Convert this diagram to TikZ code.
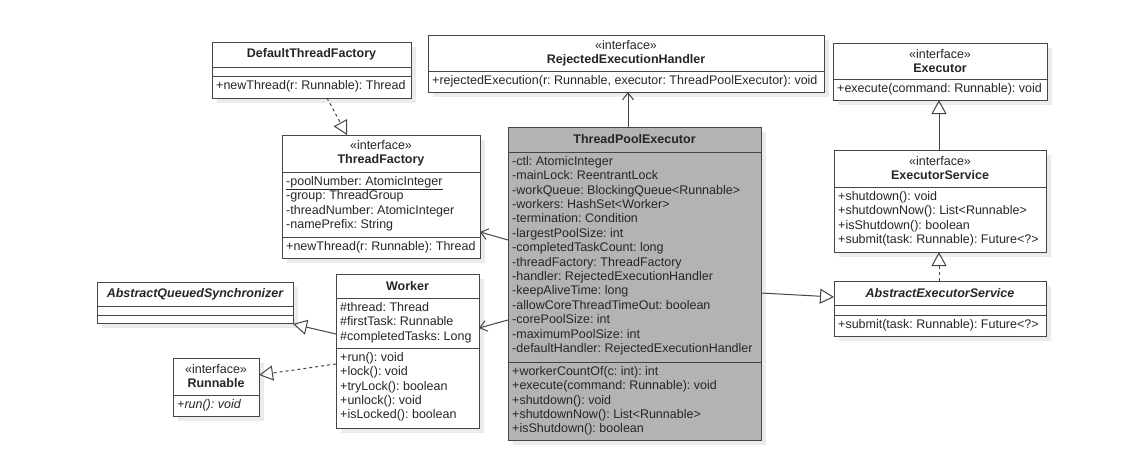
\documentclass[tikz,border=0pt]{standalone}
\usepackage{fontspec}
\setmainfont{Liberation Sans}
\usetikzlibrary{arrows.meta,fit}
\frenchspacing
\definecolor{lc}{HTML}{454545}
\definecolor{tc}{HTML}{262626}
\definecolor{shc}{HTML}{EBEBEB}
\definecolor{tpefill}{HTML}{B3B3B3}
\tikzset{
 cls/.style={draw=lc, line width=1pt, fill=white, inner sep=0pt, outer sep=0pt},
 sep/.style={draw=lc, line width=1pt},
 txt/.style={anchor=north west, inner sep=0pt, align=left, text=tc, font=\fontsize{12.5}{14.4}\selectfont\frenchspacing},
 hdr/.style={inner sep=0pt, align=center, text=tc, font=\fontsize{12.5}{14}\selectfont\bfseries},
 conn/.style={draw=lc, line width=1pt},
 gen/.style={conn, -{Triangle[open, length=14pt, width=15pt]}},
 real/.style={gen, dash pattern=on 3pt off 3pt},
 nav/.style={conn, -{Straight Barb[length=7pt, width=11pt]}},
}
\newcommand\stereo{{\mdseries\fontsize{12.5}{14}\selectfont «interface»}}
\newcommand\umlcls[6][]{%
 \fill[shc] (#3+5,#4+5) rectangle (#5+5,#6+5);
 \path (#3,#4) coordinate (#2-nw) (#5,#6) coordinate (#2-se);
 \node[cls, fit=(#2-nw)(#2-se), #1] (#2) {};
}
\begin{document}
\begin{tikzpicture}[x=1pt,y=-1pt]
\fill[white] (0,0) rectangle (1146,463);
\useasboundingbox (0,0) rectangle (1146,463);

% DefaultThreadFactory
\umlcls{dtf}{212}{42}{411}{98}
\draw[sep] (dtf.west |- 0,67) -- (dtf.east |- 0,67);
\draw[sep] (dtf.west |- 0,76) -- (dtf.east |- 0,76);
\node[hdr] (dtft) at (311.5,54.5) {DefaultThreadFactory};
\node[txt] (dtfm) at (216,79) {\strut+newThread(r: Runnable): Thread};

% RejectedExecutionHandler
\umlcls{reh}{428}{35}{824}{92}
\draw[sep] (reh.west |- 0,71) -- (reh.east |- 0,71);
\node[hdr] (reht) at (626,53) {\stereo\\RejectedExecutionHandler};
\node[txt] (rehm) at (432,74) {\strut+rejectedExecution(r: Runnable, executor: ThreadPoolExecutor): void};

% Executor
\umlcls{exe}{833}{43}{1047}{100}
\draw[sep] (exe.west |- 0,79) -- (exe.east |- 0,79);
\node[hdr] (exet) at (940,61) {\stereo\\Executor};
\node[txt] (exem) at (837,82) {\strut+execute(command: Runnable): void};

% ThreadFactory
\umlcls{tf}{282}{135}{480}{258}
\draw[sep] (tf.west |- 0,172) -- (tf.east |- 0,172);
\draw[sep] (tf.west |- 0,237) -- (tf.east |- 0,237);
\node[hdr] (tft) at (381,153.5) {\stereo\\ThreadFactory};
\node[txt] (tfa) at (286,175) {\strut\underline{-poolNumber: AtomicInteger}\\-group: ThreadGroup\\-threadNumber: AtomicInteger\\-namePrefix: String};
\node[txt] (tfm) at (286,240) {\strut+newThread(r: Runnable): Thread};

% ThreadPoolExecutor
\umlcls[fill=tpefill]{tpe}{508}{127}{761}{440}
\draw[sep] (tpe.west |- 0,152) -- (tpe.east |- 0,152);
\draw[sep] (tpe.west |- 0,362) -- (tpe.east |- 0,362);
\node[hdr] (tpet) at (634.5,139.5) {ThreadPoolExecutor};
\node[txt] (tpea) at (512,155) {\strut-ctl: AtomicInteger\\-mainLock: ReentrantLock\\-workQueue: BlockingQueue<Runnable>\\-workers: HashSet<Worker>\\-termination: Condition\\-largestPoolSize: int\\-completedTaskCount: long\\-threadFactory: ThreadFactory\\-handler: RejectedExecutionHandler\\-keepAliveTime: long\\-allowCoreThreadTimeOut: boolean\\-corePoolSize: int\\-maximumPoolSize: int\\-defaultHandler: RejectedExecutionHandler};
\node[txt] (tpem) at (512,365) {\strut+workerCountOf(c: int): int\\+execute(command: Runnable): void\\+shutdown(): void\\+shutdownNow(): List<Runnable>\\+isShutdown(): boolean};

% ExecutorService
\umlcls{es}{834}{150}{1046}{252}
\draw[sep] (es.west |- 0,187) -- (es.east |- 0,187);
\node[hdr] (est) at (940,168.5) {\stereo\\ExecutorService};
\node[txt] (esm) at (838,190) {\strut+shutdown(): void\\+shutdownNow(): List<Runnable>\\+isShutdown(): boolean\\+submit(task: Runnable): Future<?>};

% AbstractExecutorService
\umlcls{aes}{834}{281}{1046}{336}
\draw[sep] (aes.west |- 0,305) -- (aes.east |- 0,305);
\draw[sep] (aes.west |- 0,315) -- (aes.east |- 0,315);
\node[hdr] (aest) at (940,293) {\itshape AbstractExecutorService};
\node[txt] (aesm) at (838,318) {\strut+submit(task: Runnable): Future<?>};

% AbstractQueuedSynchronizer
\umlcls{aqs}{97}{282}{293}{323}
\draw[sep] (aqs.west |- 0,306) -- (aqs.east |- 0,306);
\draw[sep] (aqs.west |- 0,315) -- (aqs.east |- 0,315);
\node[hdr] (aqst) at (195,294) {\itshape AbstractQueuedSynchronizer};

% Worker
\umlcls{worker}{336}{274}{479}{428}
\draw[sep] (worker.west |- 0,298) -- (worker.east |- 0,298);
\draw[sep] (worker.west |- 0,348) -- (worker.east |- 0,348);
\node[hdr] (workert) at (407.5,286) {Worker};
\node[txt] (workera) at (340,301) {\strut\#thread: Thread\\\#firstTask: Runnable\\\#completedTasks: Long};
\node[txt] (workerm) at (340,351) {\strut+run(): void\\+lock(): void\\+tryLock(): boolean\\+unlock(): void\\+isLocked(): boolean};

% Runnable
\umlcls{runnable}{173}{358}{259}{416}
\draw[sep] (runnable.west |- 0,395) -- (runnable.east |- 0,395);
\node[hdr] (runnablet) at (216,376.5) {\stereo\\Runnable};
\node[txt] (runnablem) at (177,398) {\strut\itshape +run(): void};

% connectors
\draw[real] (dtf.south -| 327,0) -- (tf.north -| 347,0);
\draw[nav] (tpe.west |- 0,240) -- (tf.east |- 0,232);
\draw[nav] (tpe.west |- 0,320) -- (worker.east |- 0,328);
\draw[nav] (tpe.north -| 628,0) -- (reh.south -| 628,0);
\draw[gen] (tpe.east |- 0,293) -- (aes.west |- 0,297);
\draw[gen] (es.north -| 939,0) -- (exe.south -| 939,0);
\draw[real] (aes.north -| 939,0) -- (es.south -| 939,0);
\draw[gen] (worker.west |- 0,334) -- (aqs.east |- 0,324);
\draw[real] (worker.west |- 0,364) -- (runnable.east |- 0,375);
\end{tikzpicture}
\end{document}
